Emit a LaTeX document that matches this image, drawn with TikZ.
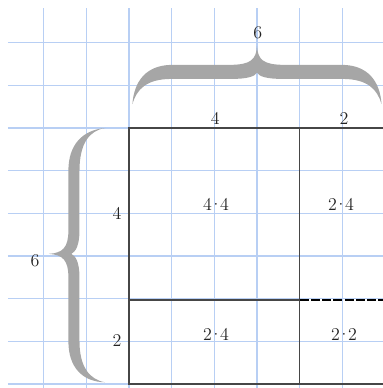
\documentclass[tikz,border=0pt]{standalone}
\usepackage{xcolor}
\definecolor{gridblue}{RGB}{184,207,244}
\definecolor{bracegray}{RGB}{166,166,166}
\definecolor{edgegray}{RGB}{70,70,70}
\definecolor{txt}{RGB}{35,35,35}
\newcommand{\pdot}{\kern-0.16em·\kern-0.16em}
\begin{document}
\begin{tikzpicture}[
  gridline/.style={gridblue, line width=0.85pt},
  sqline/.style={edgegray, line width=0.9pt},
  lbl/.style={text=txt, inner sep=0pt, font=\fontsize{12}{14}\selectfont},
  bracefill/.style={fill=bracegray, draw=none}
]
\clip (-3.023,-0.094) rectangle (5.953,9.0);
% grid
\foreach \x in {-2,...,5} \draw[gridline] (\x,-0.2) -- (\x,8.81);
\foreach \y in {0,...,8} \draw[gridline] (-2.836,\y) -- (6.1,\y);
% square
\draw[sqline] (0,0) rectangle (6,6);
\draw[sqline] (4,0) -- (4,6);
\draw[sqline] (0,1.97) -- (4,1.97);
\draw[black, line width=1.1pt, dash pattern=on 6pt off 1.5pt] (4,1.97) -- (6,1.97);
% top brace
\path[bracefill] (0.08,6.56) .. controls (0.12,7.1) and (0.4,7.47) .. (1.0,7.48)
  -- (2.4,7.48) .. controls (2.85,7.49) and (2.98,7.6) .. (3.0,7.92)
  .. controls (3.02,7.6) and (3.15,7.49) .. (3.6,7.48)
  -- (5.0,7.48) .. controls (5.6,7.47) and (5.88,7.1) .. (5.92,6.56)
  .. controls (5.82,6.9) and (5.6,7.15) .. (5.0,7.15)
  -- (3.6,7.15) .. controls (3.25,7.15) and (3.05,7.2) .. (3.0,7.3)
  .. controls (2.95,7.2) and (2.75,7.15) .. (2.4,7.15)
  -- (1.0,7.15) .. controls (0.4,7.15) and (0.18,6.9) .. (0.08,6.56) -- cycle;
% left brace
\path[bracefill] (-0.56,6.0) .. controls (-1.1,5.95) and (-1.42,5.6) .. (-1.42,5.0)
  -- (-1.42,3.6) .. controls (-1.42,3.2) and (-1.55,3.07) .. (-1.88,3.05)
  .. controls (-1.55,3.03) and (-1.42,2.9) .. (-1.42,2.5)
  -- (-1.42,1.0) .. controls (-1.42,0.4) and (-1.1,0.05) .. (-0.56,0.04)
  .. controls (-0.92,0.1) and (-1.16,0.4) .. (-1.16,1.0)
  -- (-1.16,2.5) .. controls (-1.16,2.85) and (-1.25,3.0) .. (-1.35,3.05)
  .. controls (-1.25,3.1) and (-1.16,3.25) .. (-1.16,3.6)
  -- (-1.16,5.0) .. controls (-1.16,5.65) and (-0.92,5.94) .. (-0.56,6.0) -- cycle;
% labels
\node[lbl] (top6) at (3.02,8.23) {6};
\node[lbl] (top4) at (2.02,6.23) {4};
\node[lbl] (top2) at (5.04,6.23) {2};
\node[lbl] (left4) at (-0.28,4.0) {4};
\node[lbl] (left2) at (-0.28,1.03) {2};
\node[lbl] (left6) at (-2.2,2.88) {6};
\node[lbl] (c44) at (2.04,4.2) {4\pdot4};
\node[lbl] (c24a) at (4.97,4.2) {2\pdot4};
\node[lbl] (c24b) at (2.04,1.17) {2\pdot4};
\node[lbl] (c22) at (5.04,1.17) {2\pdot2};
\end{tikzpicture}
\end{document}
